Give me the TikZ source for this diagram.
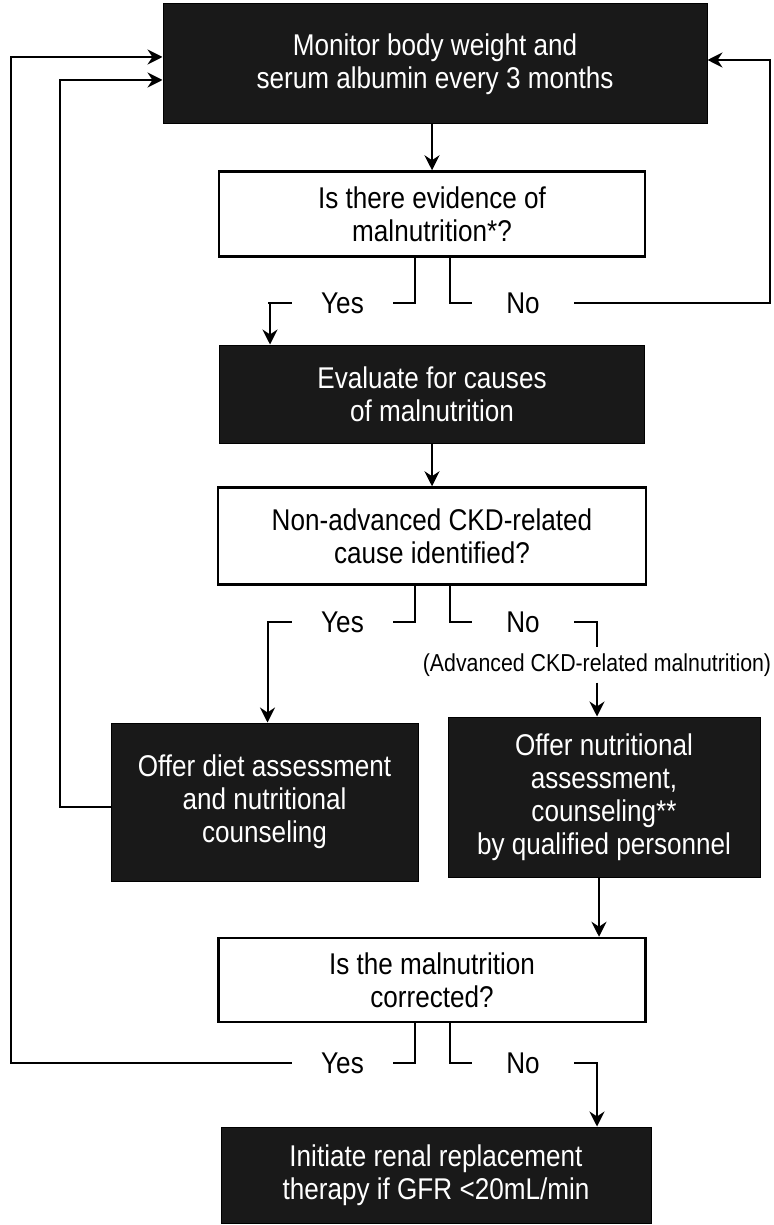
\documentclass[tikz,border=0pt]{standalone}
\usepackage{fontspec}
\setmainfont[FakeStretch=0.87]{Liberation Sans}
\usetikzlibrary{arrows.meta}
\begin{document}
\begin{tikzpicture}[x=1pt,y=-1pt,
  boxfont/.style={font=\fontsize{30}{33}\selectfont},
  dark/.style={boxfont, draw=black, line width=1pt, fill=black!90, text=white, align=center, inner sep=0pt},
  light/.style={boxfont, draw=black, line width=2.5pt, fill=white, text=black, align=center, inner sep=0pt},
  yn/.style={boxfont, minimum width=101pt, inner sep=0pt},
  ln/.style={line width=2pt, draw=black},
  tick/.style={line width=2.6pt, draw=black},
  arr/.style={ln, -{Stealth[length=15pt,width=15pt,inset=5pt]}}
]
\useasboundingbox (0,0) rectangle (773,1225);

\node[dark, minimum width=544pt, minimum height=120pt] (top) at (435,64) {Monitor body weight and\\serum albumin every 3 months};
\node[light, minimum width=426pt, minimum height=85pt] (q1) at (432,214) {Is there evidence of\\malnutrition*?};
\node[yn] (yes1) at (342.5,303) {Yes};
\node[yn, minimum width=102pt] (no1) at (523,303) {No};
\node[dark, minimum width=425pt, minimum height=98pt] (eval) at (432,394) {Evaluate for causes\\of malnutrition};
\node[light, minimum width=428pt, minimum height=97pt] (q2) at (432,536) {Non-advanced CKD-related\\cause identified?};
\node[yn] (yes2) at (342.5,622) {Yes};
\node[yn, minimum width=102pt] (no2) at (523,622) {No};
\node[font=\fontsize{24.5}{28}\selectfont, inner sep=0pt, minimum height=35pt] (adv) at (597,665) {(Advanced CKD-related malnutrition)};
\node[dark, minimum width=307pt, minimum height=158pt] (diet) at (264.5,802) {Offer diet assessment\\and nutritional\\counseling};
\node[dark, minimum width=312pt, minimum height=160pt] (nutr) at (604,797) {Offer nutritional\\assessment,\\counseling**\\by qualified personnel};
\node[light, minimum width=427pt, minimum height=84pt] (q3) at (432,980) {Is the malnutrition\\corrected?};
\node[yn] (yes3) at (342.5,1063) {Yes};
\node[yn, minimum width=102pt] (no3) at (523,1063) {No};
\node[dark, minimum width=430pt, minimum height=96pt] (rrt) at (436,1175) {Initiate renal replacement\\therapy if GFR <20mL/min};

\coordinate (lo) at (11,0);
\coordinate (li) at (60,0);
\coordinate (ro) at (770,0);

% top to q1
\draw[arr] (top.south -| q1.north) -- (q1.north);
\draw[ln] (yes1.east) -| ([xshift=-17pt]q1.south);
\draw[ln] (no1.west) -| ([xshift=18pt]q1.south);
\draw[tick] (yes1.east) -- ++(22,0);
\draw[tick] (no1.west) -- ++(-22,0);
\draw[tick] (yes1.west) -- ++(-24,0);
\draw[arr] (yes1.west) -| ([xshift=-162pt]eval.north);
\draw[arr] (no1.east) -- (no1.east -| ro) |- ([yshift=4pt]top.east);
% eval to q2
\draw[arr] (eval.south) -- (q2.north);
\draw[ln] (yes2.east) -| ([xshift=-17pt]q2.south);
\draw[ln] (no2.west) -| ([xshift=18pt]q2.south);
\draw[tick] (yes2.east) -- ++(22,0);
\draw[tick] (no2.west) -- ++(-22,0);
\draw[tick] (yes2.west) -- ++(-24,0);
\draw[tick] (no2.east) -- ++(22,0);
\draw[arr] (yes2.west) -| ([xshift=3pt]diet.north);
\draw[ln] (no2.east) -| (adv.north);
\draw[arr] (adv.south) -- (adv.south |- nutr.north);
% nutr to q3
\draw[arr] ([xshift=-5pt]nutr.south) -- ([xshift=-5pt]nutr.south |- q3.north);
\draw[ln] (yes3.east) -| ([xshift=-17pt]q3.south);
\draw[ln] (no3.west) -| ([xshift=18pt]q3.south);
\draw[tick] (yes3.east) -- ++(22,0);
\draw[tick] (no3.west) -- ++(-22,0);
\draw[tick] (no3.east) -- ++(22,0);
\draw[arr] (no3.east) -| (adv.south |- rrt.north);
% loops back to top
\draw[arr] (yes3.west) -- (yes3.west -| lo) |- ([yshift=7pt]top.west);
\draw[arr] ([yshift=-5pt]diet.west) -- ([yshift=-5pt]diet.west -| li) |- ([yshift=-16pt]top.west);
\end{tikzpicture}
\end{document}
